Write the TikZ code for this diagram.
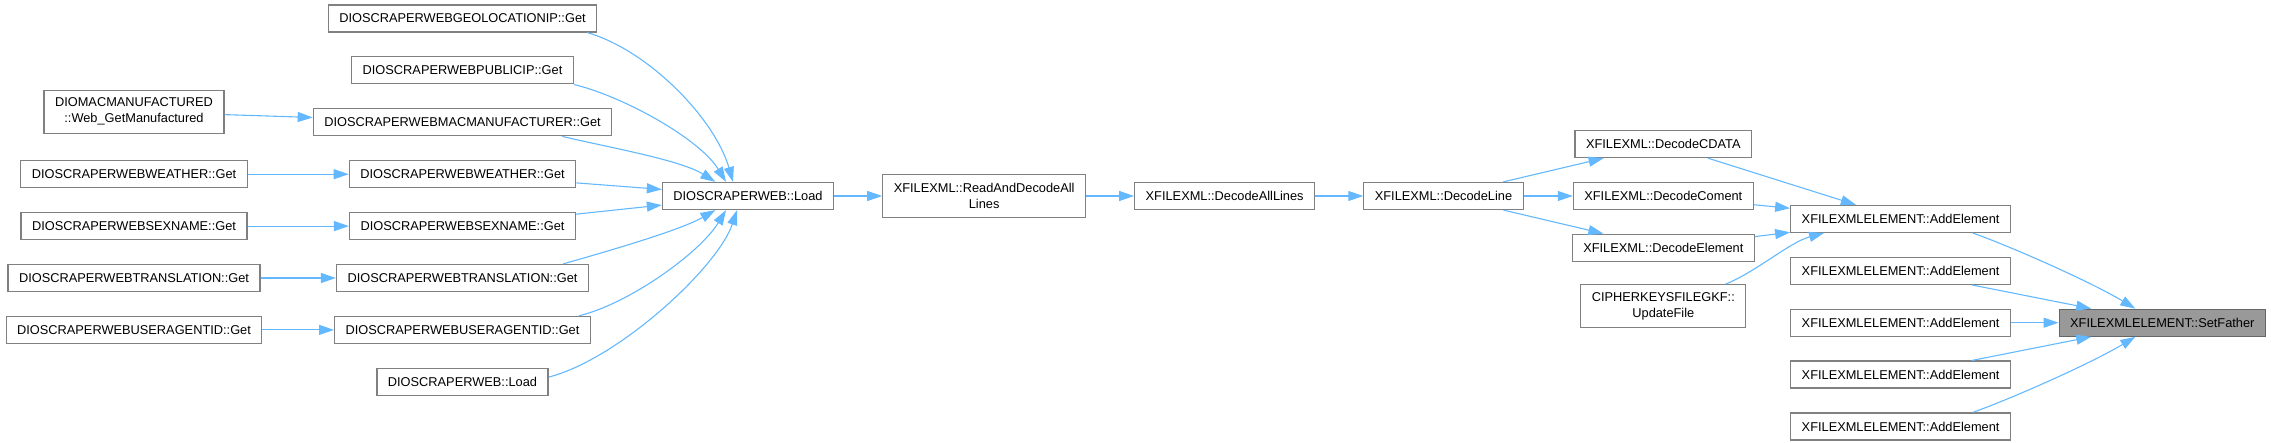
\documentclass[tikz,border=0pt]{standalone}
\usepackage{fontspec}
\setmainfont{Liberation Sans}
\usepackage{xcolor}
\definecolor{edgeblue}{HTML}{63B8FF}
\definecolor{boxgray}{HTML}{808080}
\definecolor{rootfill}{HTML}{999999}
\definecolor{rootdraw}{HTML}{666666}
\usepackage{tikz}
\usetikzlibrary{positioning,arrows.meta}
\tikzset{
  fnbox/.style   ={rectangle, draw=boxgray, line width=1.2pt, fill=white, align=center,
                   inner xsep=11pt, inner ysep=3pt, minimum height=27pt,
                   font=\fontsize{12.8}{16}\selectfont},
  fnboxtwo/.style={fnbox, minimum height=43pt},
  rootbox/.style ={fnbox, draw=rootdraw, fill=rootfill},
  arr/.style     ={-{Triangle[length=15pt,width=10pt]}, draw=edgeblue, line width=1.1pt},
}

\begin{document}
\begin{tikzpicture}[x=1pt, y=-1pt, node distance=23.7pt and 48pt]
  \useasboundingbox (0,0) rectangle (2271,443);
  % callers of DIOSCRAPERWEB::Load
  \node[fnbox] (geo) at (462.5,18.5) {DIOSCRAPERWEBGEOLOCATIONIP::Get};
  \node[fnbox, below=of geo] (pubip) {DIOSCRAPERWEBPUBLICIP::Get};
  \node[fnbox, below=of pubip] (macmfr) {DIOSCRAPERWEBMACMANUFACTURER::Get};
  \node[fnbox, below=of macmfr] (weatherr) {DIOSCRAPERWEBWEATHER::Get};
  \node[fnbox, below=of weatherr] (sexr) {DIOSCRAPERWEBSEXNAME::Get};
  \node[fnbox, below=of sexr] (transr) {DIOSCRAPERWEBTRANSLATION::Get};
  \node[fnbox, below=of transr] (uar) {DIOSCRAPERWEBUSERAGENTID::Get};
  \node[fnbox, below=of uar] (loadb) {DIOSCRAPERWEB::Load};
  % outer callers
  \coordinate (lcol) at (134,0);
  \node[fnboxtwo] (diomac) at (134,111.7) {DIOMACMANUFACTURED\\::Web\_GetManufactured};
  \node[fnbox] (weatherl) at (weatherr -| lcol) {DIOSCRAPERWEBWEATHER::Get};
  \node[fnbox] (sexl) at (sexr -| lcol) {DIOSCRAPERWEBSEXNAME::Get};
  \node[fnbox] (transl) at (transr -| lcol) {DIOSCRAPERWEBTRANSLATION::Get};
  \node[fnbox] (ual) at (uar -| lcol) {DIOSCRAPERWEBUSERAGENTID::Get};
  % main chain
  \node[fnbox] (load) at (748,196) {DIOSCRAPERWEB::Load};
  \node[fnboxtwo, right=of load] (rad) {XFILEXML::ReadAndDecodeAll\\Lines};
  \node[fnbox, right=of rad] (dal) {XFILEXML::DecodeAllLines};
  \node[fnbox, right=of dal] (dline) {XFILEXML::DecodeLine};
  \node[fnbox, right=49pt of dline] (coment) {XFILEXML::DecodeComent};
  \node[fnbox, above=of coment] (cdata) {XFILEXML::DecodeCDATA};
  \node[fnbox, below=23.5pt of coment] (element) {XFILEXML::DecodeElement};
  \node[fnboxtwo, below=22.4pt of element] (cipher) {CIPHERKEYSFILEGKF::\\UpdateFile};
  % callers of SetFather
  \node[rootbox] (setf) at (2162.3,322.7) {XFILEXMLELEMENT::SetFather};
  \node[fnbox, left=47.5pt of setf] (ae3) {XFILEXMLELEMENT::AddElement};
  \node[fnbox, above=of ae3] (ae2) {XFILEXMLELEMENT::AddElement};
  \node[fnbox, above=of ae2] (ae1) {XFILEXMLELEMENT::AddElement};
  \node[fnbox, below=of ae3] (ae4) {XFILEXMLELEMENT::AddElement};
  \node[fnbox, below=of ae4] (ae5) {XFILEXMLELEMENT::AddElement};

  \draw[arr] (diomac) -- (macmfr);
  \draw[arr] (weatherl) -- (weatherr);
  \draw[arr] (sexl) -- (sexr);
  \draw[arr] (transl) -- (transr);
  \draw[arr] (ual) -- (uar);
  \draw[arr] ([xshift=-10pt]geo.south east) .. controls +(62,18) and +(-18,-62.7) .. ([xshift=-15pt]load.north);
  \draw[arr] (pubip.south east) .. controls +(50,12) and +(-26,-42.7) .. ([xshift=-22pt]load.north);
  \draw[arr] ([xshift=-50pt]macmfr.south east) .. controls +(46,11) and +(-35,-22) .. ([xshift=-32.6pt]load.north);
  \draw[arr] (weatherr) -- (load);
  \draw[arr] (sexr) -- (load);
  \draw[arr] ([xshift=-26pt]transr.north east) .. controls +(46,-13) and +(-35,20) .. ([xshift=-32.6pt]load.south);
  \draw[arr] ([xshift=-12pt]uar.north east) .. controls +(50,-12) and +(-26,42.7) .. ([xshift=-22pt]load.south);
  \draw[arr] ([yshift=4.7pt]loadb.east) .. controls +(70,-18) and +(-19,57) .. ([xshift=-11pt]load.south);
  \draw[arr] (load) -- (rad);
  \draw[arr] (rad) -- (dal);
  \draw[arr] (dal) -- (dline);
  \draw[arr] (dline) -- (cdata);
  \draw[arr] (dline) -- (coment);
  \draw[arr] (dline) -- (element);
  \draw[arr] (cdata) -- (ae1);
  \draw[arr] (coment) -- (ae1);
  \draw[arr] (element) -- (ae1);
  \draw[arr] ([xshift=-21pt]cipher.north east) .. controls +(30,-12) and +(-34,9) .. ([xshift=34pt]ae1.south west);
  \draw[arr] ([xshift=-38.4pt]ae1.south east) .. controls +(37,13) and +(-45,-27) .. ([xshift=-27pt]setf.north);
  \draw[arr] (ae2) -- (setf);
  \draw[arr] (ae3) -- (setf);
  \draw[arr] (ae4) -- (setf);
  \draw[arr] ([xshift=-38.4pt]ae5.north east) .. controls +(37,-13) and +(-45,27) .. ([xshift=-27pt]setf.south);
\end{tikzpicture}
\end{document}
